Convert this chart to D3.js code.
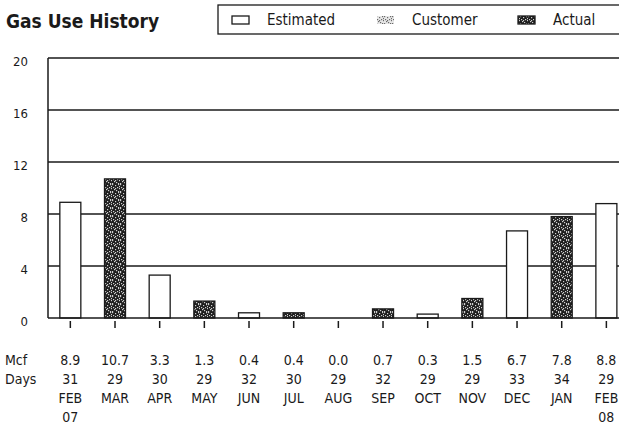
<!DOCTYPE html>
<html>
<head>
<meta charset="utf-8">
<script src="https://cdn.jsdelivr.net/npm/d3@7"></script>
<style>
  html, body { margin: 0; padding: 0; background: #fff; }
  svg { display: block; font-family: "Liberation Sans Narrow", "DejaVu Sans", sans-serif; font-stretch: condensed; }
</style>
</head>
<body>
<svg id="chart" width="619" height="426"></svg>
<script>
  // chart values
  var months = ['FEB', 'MAR', 'APR', 'MAY', 'JUN', 'JUL', 'AUG', 'SEP', 'OCT', 'NOV', 'DEC', 'JAN', 'FEB'];
  var years = ['07', '', '', '', '', '', '', '', '', '', '', '', '08'];
  var mcf = [8.9, 10.7, 3.3, 1.3, 0.4, 0.4, 0.0, 0.7, 0.3, 1.5, 6.7, 7.8, 8.8];
  var days = [31, 29, 30, 29, 32, 30, 29, 32, 29, 29, 33, 34, 29];
  var readType = ['Estimated', 'Actual', 'Estimated', 'Actual', 'Estimated', 'Actual', 'Estimated',
                  'Actual', 'Estimated', 'Actual', 'Estimated', 'Actual', 'Estimated'];
  var legendItems = ['Estimated', 'Customer', 'Actual'];
  var yTicks = [0, 4, 8, 12, 16, 20];

(function () {
  'use strict';

  var svg = d3.select('#chart');
  var ink = '#1a1a1a';

  // speckle textures (fixed dot layout, purely decorative)
  var defs = svg.append('defs');
  var speckDots = [[0,0],[3,1],[6,0],[1,3],[5,3],[2,5],[7,4],[4,6],[0,7],[6,7],[3,4],[7,2]];
  function speckle(id, bg, dot) {
    var p = defs.append('pattern').attr('id', id)
      .attr('width', 8).attr('height', 8).attr('patternUnits', 'userSpaceOnUse');
    p.append('rect').attr('width', 8).attr('height', 8).attr('fill', bg);
    p.selectAll('rect.d').data(speckDots).enter().append('rect').attr('class', 'd')
      .attr('x', function(d) { return d[0]; }).attr('y', function(d) { return d[1]; })
      .attr('width', 1.2).attr('height', 1.2).attr('fill', dot);
  }
  speckle('pat-actual', '#1e1e1e', '#cfcfcf');
  speckle('pat-customer', '#e6e6e6', '#6a6a6a');
  var fills = { Estimated: '#ffffff', Customer: 'url(#pat-customer)', Actual: 'url(#pat-actual)' };

  var left = 48, step = 44.67, base = 318, plotTop = 58;
  var idx = d3.range(months.length);

  var x = d3.scaleBand().domain(idx)
    .range([left, left + step * months.length])
    .paddingInner(0.53).paddingOuter(0.265);
  var y = d3.scaleLinear().domain([0, 20]).range([base, plotTop]);
  var cx = function(i) { return x(i) + x.bandwidth() / 2; };

  // title
  svg.append('text').attr('x', 6).attr('y', 28)
    .attr('font-size', 19).attr('font-weight', 'bold').attr('fill', ink)
    .text('Gas Use History');

  // legend
  var lg = svg.append('g');
  lg.append('rect').attr('x', 218).attr('y', 5).attr('width', 420).attr('height', 29)
    .attr('fill', 'none').attr('stroke', ink).attr('stroke-width', 1.3);
  var lx = [232, 377, 518];
  lg.selectAll('rect.icon').data(legendItems).enter().append('rect').attr('class', 'icon')
    .attr('x', function(d, i) { return lx[i]; }).attr('y', 16)
    .attr('width', 17).attr('height', 8)
    .attr('fill', function(d) { return fills[d]; })
    .attr('stroke', function(d) { return d === 'Customer' ? 'none' : ink; })
    .attr('stroke-width', 1.3);
  lg.selectAll('text.lab').data(legendItems).enter().append('text').attr('class', 'lab')
    .attr('x', function(d, i) { return lx[i] + 35; }).attr('y', 25)
    .attr('font-size', 15).attr('fill', ink)
    .text(function(d) { return d; });

  // grid and y labels
  svg.append('g').selectAll('line').data(yTicks.filter(function(t) { return t > 0; }))
    .enter().append('line')
    .attr('x1', left).attr('x2', 619)
    .attr('y1', function(d) { return y(d); }).attr('y2', function(d) { return y(d); })
    .attr('stroke', ink).attr('stroke-width', 1.3);

  svg.append('g').selectAll('text').data(yTicks).enter().append('text')
    .attr('x', 28).attr('y', function(d) { return y(d) + 3; })
    .attr('dy', '0.35em').attr('text-anchor', 'end')
    .attr('font-size', 13).attr('fill', ink)
    .text(function(d) { return d; });

  // bars
  svg.append('g').selectAll('rect').data(idx).enter().append('rect')
    .attr('x', function(i) { return x(i); })
    .attr('y', function(i) { return y(mcf[i]); })
    .attr('width', x.bandwidth())
    .attr('height', function(i) { return base - y(mcf[i]); })
    .attr('fill', function(i) { return fills[readType[i]]; })
    .attr('stroke', ink).attr('stroke-width', 1.3);

  // axis lines
  svg.append('line').attr('x1', left).attr('x2', left).attr('y1', plotTop).attr('y2', base)
    .attr('stroke', ink).attr('stroke-width', 1.5);
  svg.append('line').attr('x1', left).attr('x2', 619).attr('y1', base).attr('y2', base)
    .attr('stroke', ink).attr('stroke-width', 1.5);

  // ticks under the baseline
  svg.append('g').selectAll('line').data(idx).enter().append('line')
    .attr('x1', cx).attr('x2', cx).attr('y1', base + 3).attr('y2', base + 10)
    .attr('stroke', ink).attr('stroke-width', 1.5);

  // table below
  var rows = [
    { label: 'Mcf', y: 365, vals: mcf.map(function(v) { return v.toFixed(1); }) },
    { label: 'Days', y: 384, vals: days },
    { label: '', y: 403, vals: months },
    { label: '', y: 422, vals: years }
  ];
  rows.forEach(function(r) {
    var g = svg.append('g').attr('font-size', 14).attr('fill', ink);
    if (r.label) g.append('text').attr('x', 5).attr('y', r.y).text(r.label);
    g.selectAll('text.v').data(idx).enter().append('text').attr('class', 'v')
      .attr('x', cx).attr('y', r.y).attr('text-anchor', 'middle')
      .text(function(i) { return r.vals[i]; });
  });
})();
</script>
</body>
</html>
